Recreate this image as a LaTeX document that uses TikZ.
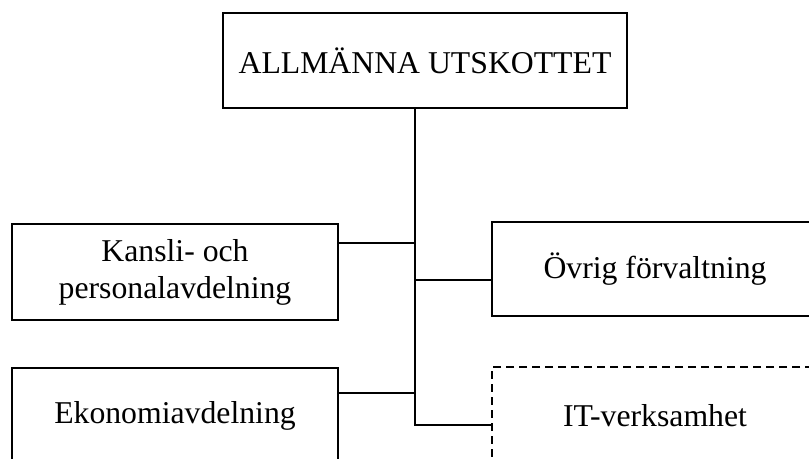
\documentclass[tikz,border=0pt]{standalone}
\usepackage{fontspec}
\setmainfont{Liberation Serif}
\begin{document}
\begin{tikzpicture}[x=0.75pt,y=-0.75pt,
  box/.style={draw,line width=1pt,fill=white,inner sep=0pt,align=center,
    font=\fontsize{23.8}{27.8}\selectfont},
  dashbox/.style={box,dash pattern=on 6pt off 3.75pt},
  conn/.style={line width=1pt}]
\useasboundingbox (0,0) rectangle (809,459);
\clip (0,0) rectangle (809,459);
\coordinate (tr) at (415,425);
\coordinate (j1) at (415,243);
\coordinate (j2) at (415,280);
\coordinate (j3) at (415,393);
\node[box,minimum width=404*0.75pt,minimum height=95*0.75pt] (top) at (425,60.5) {ALLMÄNNA UTSKOTTET};
\node[box,minimum width=326*0.75pt,minimum height=96*0.75pt] (kansli) at (175,272) {Kansli- och\\personalavdelning};
\node[box,minimum width=326*0.75pt,minimum height=94*0.75pt] (ovrig) at (655,269) {Övrig förvaltning};
\node[box,minimum width=326*0.75pt,minimum height=96*0.75pt] (eko) at (175,416) {Ekonomiavdelning};
\node[dashbox,minimum width=326*0.75pt,minimum height=98*0.75pt] (it) at (655,416) {IT-verksamhet};
\draw[conn] (top.south -| tr) -- (tr) -- (it.west |- tr);
\draw[conn] (kansli.east |- j1) -- (j1);
\draw[conn] (j2) -- (ovrig.west |- j2);
\draw[conn] (eko.east |- j3) -- (j3);
\end{tikzpicture}
\end{document}
